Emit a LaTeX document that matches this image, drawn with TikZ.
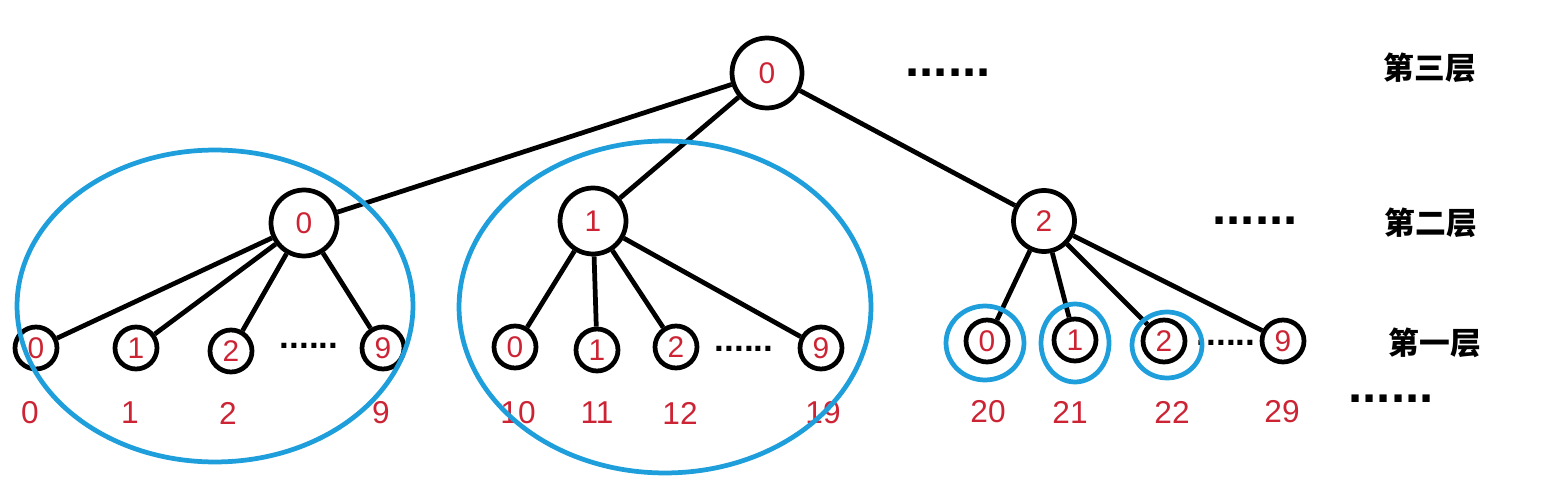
\documentclass[tikz,border=0pt]{standalone}
\usepackage{fontspec}
\setmainfont{Liberation Sans}
\newfontfamily\cjk{Noto Sans CJK SC}
\usetikzlibrary{shapes.geometric}
\definecolor{numred}{RGB}{204,36,52}
\definecolor{ringblue}{RGB}{30,158,218}
\begin{document}
\begin{tikzpicture}[
  x=0.02cm, y=-0.02cm,
  every node/.style={inner sep=0pt},
  digit/.style={circle, draw, line width=2.7pt, text=numred, font=\fontsize{17}{19}\selectfont},
  rootnode/.style={digit, minimum size=1.4cm},
  midnode/.style={digit, minimum size=1.32cm},
  leaf/.style={digit, minimum size=0.84cm},
  idx/.style={text=numred, font=\fontsize{18}{21}\selectfont},
  more/.style={font=\bfseries\fontsize{29}{30}\selectfont},
  few/.style={font=\bfseries\fontsize{20}{22}\selectfont},
  layer/.style={font=\cjk\bfseries\fontsize{17.5}{20}\selectfont},
  ring/.style={ellipse, draw=ringblue, line width=2.7pt},
  link/.style={line width=2.7pt}
]
\useasboundingbox (0,0) rectangle (1558,496);
% third layer
\node[rootnode] (r) at (767,73) {0};
\node[more] (rdots) at (948,73) {......};
\node[layer] (l3) at (1430,68) {第三层};
% second layer
\node[midnode] (a0) at (304,223) {0};
\node[midnode] (a1) at (593,221) {1};
\node[midnode, minimum size=1.22cm] (a2) at (1044,221) {2};
\node[more] (adots) at (1255,221) {......};
\node[layer] (l2) at (1431,223) {第二层};
% first layer
\node[leaf] (b00) at (36,348) {0};
\node[leaf] (b01) at (136,348) {1};
\node[leaf] (b02) at (231,351) {2};
\node[few] (b0dots) at (309,346) {......};
\node[leaf] (b09) at (383,348) {9};
\node[leaf] (b10) at (515,347) {0};
\node[leaf] (b11) at (597,350) {1};
\node[leaf] (b12) at (676,347) {2};
\node[few] (b1dots) at (744,349) {......};
\node[leaf] (b19) at (821,348) {9};
\node[leaf] (b20) at (987,341) {0};
\node[leaf] (b21) at (1075,340) {1};
\node[leaf] (b22) at (1164,341) {2};
\node[few] (b2dots) at (1226,343) {......};
\node[leaf] (b29) at (1283,341) {9};
\node[layer] (l1) at (1435,343) {第一层};
% indexes
\node[idx] (i0) at (30,413) {0};
\node[idx] (i1) at (130,413) {1};
\node[idx] (i2) at (228,413) {2};
\node[idx] (i9) at (381,413) {9};
\node[idx] (i10) at (518,413) {10};
\node[idx] (i11) at (597,413) {11};
\node[idx] (i12) at (680,413) {12};
\node[idx] (i19) at (823,413) {19};
\node[idx] (i20) at (988,412) {20};
\node[idx] (i21) at (1070,412) {21};
\node[idx] (i22) at (1172,412) {22};
\node[idx] (i29) at (1282,412) {29};
\node[more] (idots) at (1391,399) {......};
% links
\draw[link] (r) -- (a0);
\draw[link] (r) -- (a1);
\draw[link] (r) -- (a2);
\foreach \k in {0,1,2,9} {
  \draw[link] (a0) -- (b0\k);
  \draw[link] (a1) -- (b1\k);
  \draw[link] (a2) -- (b2\k);
}
% groups
\node[ring, minimum width=7.92cm, minimum height=6.24cm] (g0) at (215,306) {};
\node[ring, minimum width=8.24cm, minimum height=6.64cm] (g1) at (665,307) {};
\node[ring, minimum width=1.56cm, minimum height=1.48cm] (g20) at (985,343) {};
\node[ring, minimum width=1.36cm, minimum height=1.56cm] (g21) at (1075,343) {};
\node[ring, minimum width=1.40cm, minimum height=1.32cm] (g22) at (1167,345) {};
\end{tikzpicture}
\end{document}
